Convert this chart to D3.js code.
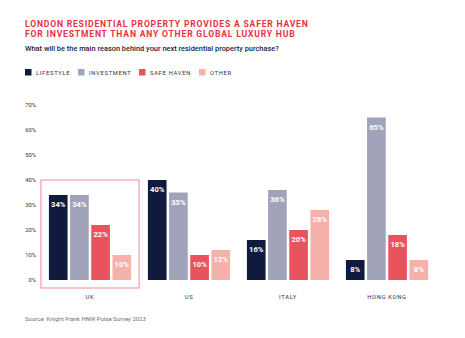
<!DOCTYPE html>
<html>
<head>
<meta charset="utf-8">
<script src="https://cdn.jsdelivr.net/npm/d3@7"></script>
<style>
  body { margin: 0; background: #fff; }
  svg { display: block; font-family: Roboto, "DejaVu Sans", sans-serif; }
</style>
</head>
<body>
<div id="chart"></div>
<script>
var width = 465,
    height = 338;

var regions = ["UK", "US", "ITALY", "HONG KONG"];
var series = ["LIFESTYLE", "INVESTMENT", "SAFE HAVEN", "OTHER"];
var lifestyle = [34, 40, 16, 8];
var investment = [34, 35, 36, 65];
var safeHaven = [22, 10, 20, 18];
var other = [10, 12, 28, 8];
var yTicks = [0, 10, 20, 30, 40, 50, 60, 70];

var colors = ["#0f1a3c", "#a0a3b9", "#e9535e", "#f6b1aa"];
var values = [lifestyle, investment, safeHaven, other];

var svg = d3.select("#chart").append("svg")
    .attr("width", width)
    .attr("height", height);

// title + subtitle
var title = svg.append("text")
    .attr("x", 25)
    .attr("fill", "#e8323f")
    .attr("font-size", 8.6)
    .attr("font-weight", 700)
    .attr("letter-spacing", 0.8);
title.append("tspan").attr("x", 25).attr("y", 27)
    .text("LONDON RESIDENTIAL PROPERTY PROVIDES A SAFER HAVEN");
title.append("tspan").attr("x", 25).attr("y", 37)
    .text("FOR INVESTMENT THAN ANY OTHER GLOBAL LUXURY HUB");

svg.append("text")
    .attr("x", 25).attr("y", 50.5)
    .attr("fill", "#1b2340")
    .attr("font-size", 7.4)
    .attr("font-weight", 500)
    .text("What will be the main reason behind your next residential property purchase?");

// legend
var legendX = [25, 78, 139, 199];
var legend = svg.selectAll(".legend")
    .data(series)
    .enter().append("g")
    .attr("class", "legend")
    .attr("transform", function(d, i) { return "translate(" + legendX[i] + ",69)"; });

legend.append("rect")
    .attr("width", 6.5).attr("height", 6.5)
    .attr("fill", function(d, i) { return colors[i]; });

legend.append("text")
    .attr("x", 11).attr("y", 5.8)
    .attr("fill", "#2a3048")
    .attr("font-size", 5.8)
    .attr("letter-spacing", 0.7)
    .text(function(d) { return d; });

// scales
var y = d3.scaleLinear()
    .domain([0, 70])
    .range([280, 105]);

var x0 = d3.scaleBand()
    .domain(regions)
    .range([40.5, 436.5])
    .paddingInner(0.17)
    .paddingOuter(0.085);

var x1 = d3.scaleBand()
    .domain(series)
    .range([0, x0.bandwidth()])
    .paddingInner(0.12)
    .paddingOuter(0);

// y axis labels
svg.selectAll(".ytick")
    .data(yTicks)
    .enter().append("text")
    .attr("class", "ytick")
    .attr("x", 36)
    .attr("y", function(d) { return y(d) + 2; })
    .attr("text-anchor", "end")
    .attr("fill", "#2a3048")
    .attr("font-size", 5.8)
    .text(function(d) { return d + "%"; });

// UK highlight box
svg.append("rect")
    .attr("x", x0("UK") - 8)
    .attr("y", y(40))
    .attr("width", x0.bandwidth() + 16)
    .attr("height", 288 - y(40))
    .attr("fill", "none")
    .attr("stroke", "#ef8d93")
    .attr("stroke-width", 1);

// bars
var groups = svg.selectAll(".region")
    .data(regions)
    .enter().append("g")
    .attr("class", "region")
    .attr("transform", function(d) { return "translate(" + x0(d) + ",0)"; });

function rows(d, gi) {
  return series.map(function(s, si) { return { key: s, i: si, value: values[si][gi] }; });
}

groups.selectAll("rect")
    .data(rows)
    .enter().append("rect")
    .attr("x", function(d) { return x1(d.key); })
    .attr("y", function(d) { return y(d.value); })
    .attr("width", x1.bandwidth())
    .attr("height", function(d) { return y(0) - y(d.value); })
    .attr("fill", function(d) { return colors[d.i]; });

groups.selectAll(".val")
    .data(rows)
    .enter().append("text")
    .attr("class", "val")
    .attr("x", function(d) { return x1(d.key) + x1.bandwidth() / 2; })
    .attr("y", function(d) { return y(d.value) + 12; })
    .attr("text-anchor", "middle")
    .attr("fill", "#fff")
    .attr("font-size", 7.6)
    .attr("font-weight", 700)
    .text(function(d) { return d.value + "%"; });

// category labels
svg.selectAll(".cat")
    .data(regions)
    .enter().append("text")
    .attr("class", "cat")
    .attr("x", function(d) { return x0(d) + x0.bandwidth() / 2; })
    .attr("y", 299)
    .attr("text-anchor", "middle")
    .attr("fill", "#2a3048")
    .attr("font-size", 5.8)
    .attr("letter-spacing", 0.7)
    .text(function(d) { return d; });

// source
svg.append("text")
    .attr("x", 25).attr("y", 321)
    .attr("fill", "#6b6f80")
    .attr("font-size", 6)
    .text("Source: Knight Frank HNW Pulse Survey 2023");
</script>
</body>
</html>
